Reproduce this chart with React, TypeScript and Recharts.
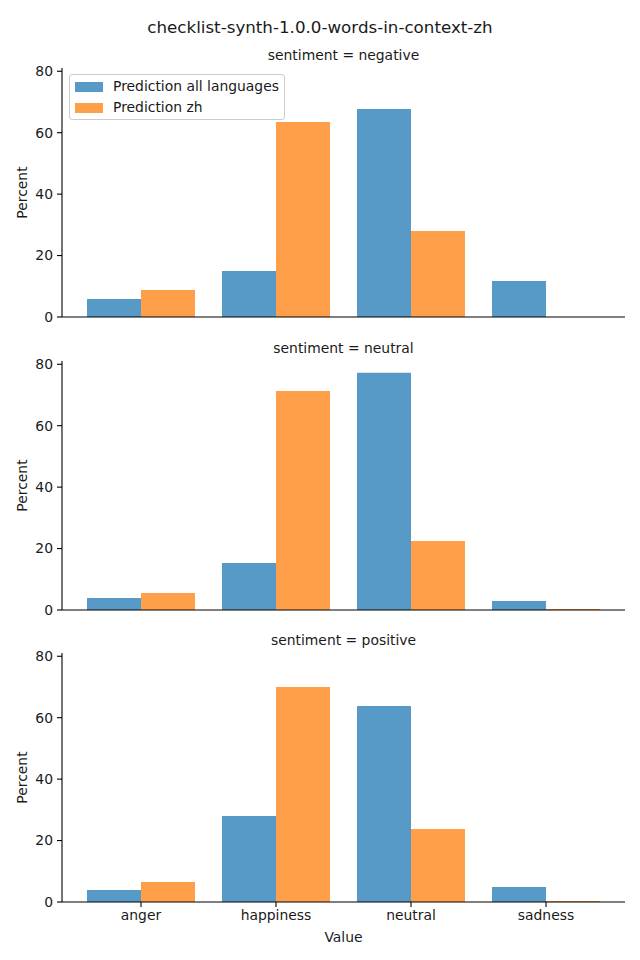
import React from 'react';
import { BarChart, Bar, XAxis, YAxis, Label } from 'recharts';

const categories = ['anger', 'happiness', 'neutral', 'sadness'];
const panelTitles = ['sentiment = negative', 'sentiment = neutral', 'sentiment = positive'];
const seriesNames = ['Prediction all languages', 'Prediction zh'];
const seriesColors = ['#5799c7', '#ff9f4a'];

const negativeAll = [5.9, 15.0, 67.7, 11.7];
const negativeZh = [8.8, 63.5, 28.0, 0];
const neutralAll = [3.9, 15.3, 77.2, 2.9];
const neutralZh = [5.5, 71.3, 22.5, 0.3];
const positiveAll = [3.9, 28.0, 63.8, 4.9];
const positiveZh = [6.5, 70.0, 23.8, 0.3];

const yTicks = [0, 20, 40, 60, 80];
const figureTitle = 'checklist-synth-1.0.0-words-in-context-zh';
const xLabel = 'Value';
const yLabel = 'Percent';

const FONT = '"DejaVu Sans", Verdana, sans-serif';
const TEXT = '#1a1a1a';
const FS = 13.9;

const panelSeries = [
  [negativeAll, negativeZh],
  [neutralAll, neutralZh],
  [positiveAll, positiveZh],
];

const PLOT_TOPS = [68, 360.5, 653];
const PLOT_H = 249;
const TOP_M = 8;
const XAXIS_H = 30;

function buildRows(all: number[], zh: number[]) {
  return categories.map((c, i) => ({ category: c, all: all[i], zh: zh[i] }));
}

function Panel({ index }: { index: number }) {
  const [all, zh] = panelSeries[index];
  const data = buildRows(all, zh);
  const isLast = index === panelSeries.length - 1;
  const height = TOP_M + PLOT_H + XAXIS_H;
  return (
    <div style={{ position: 'absolute', left: 0, top: PLOT_TOPS[index] - TOP_M, width: 640, height }}>
      <BarChart
        width={640}
        height={height}
        data={data}
        margin={{ top: TOP_M, right: 15, bottom: 0, left: 0 }}
        barCategoryGap="10%"
        barGap={0}
      >
        <XAxis
          dataKey="category"
          padding={{ left: 11.5, right: 11.5 }}
          height={XAXIS_H}
          interval={0}
          tickSize={5}
          tickMargin={3}
          axisLine={{ stroke: '#000', strokeWidth: 1.1 }}
          tickLine={{ stroke: '#000', strokeWidth: 1.1 }}
          tick={isLast ? { fill: TEXT, fontSize: FS, fontFamily: FONT } : false}
        />
        <YAxis
          width={62}
          domain={[0, 81.06]}
          ticks={yTicks}
          allowDataOverflow
          tickSize={5}
          tickMargin={4}
          axisLine={{ stroke: '#000', strokeWidth: 1.1 }}
          tickLine={{ stroke: '#000', strokeWidth: 1.1 }}
          tick={{ fill: TEXT, fontSize: FS, fontFamily: FONT }}
        >
          <Label
            content={(props: any) => {
              const vb = props.viewBox || { y: TOP_M, height: PLOT_H };
              const cy = vb.y + vb.height / 2;
              return (
                <text
                  x={22}
                  y={cy}
                  transform={`rotate(-90, 22, ${cy})`}
                  textAnchor="middle"
                  dominantBaseline="central"
                  fill={TEXT}
                  fontSize={FS}
                  fontFamily={FONT}
                >
                  {yLabel}
                </text>
              );
            }}
          />
        </YAxis>
        <Bar dataKey="all" name={seriesNames[0]} fill={seriesColors[0]} isAnimationActive={false} />
        <Bar dataKey="zh" name={seriesNames[1]} fill={seriesColors[1]} isAnimationActive={false} />
      </BarChart>
      <div
        style={{
          position: 'absolute',
          left: 62,
          width: 563,
          top: TOP_M - 21,
          textAlign: 'center',
          fontFamily: FONT,
          fontSize: FS,
          color: TEXT,
          lineHeight: '16px',
          whiteSpace: 'nowrap',
        }}
      >
        {panelTitles[index]}
      </div>
    </div>
  );
}

function LegendBox() {
  return (
    <div
      style={{
        position: 'absolute',
        left: 69,
        top: 74,
        width: 214,
        height: 44,
        border: '1px solid #cccccc',
        borderRadius: 3,
        background: 'rgba(255,255,255,0.8)',
        fontFamily: FONT,
        fontSize: FS,
        color: TEXT,
      }}
    >
      {seriesNames.map((n, i) => (
        <div key={n} style={{ position: 'absolute', left: 0, top: 2 + i * 21, height: 21, width: 214 }}>
          <div
            style={{
              position: 'absolute',
              left: 5,
              top: 5,
              width: 28,
              height: 10,
              background: seriesColors[i],
            }}
          />
          <div style={{ position: 'absolute', left: 43, top: 0, lineHeight: '18px', whiteSpace: 'nowrap' }}>{n}</div>
        </div>
      ))}
    </div>
  );
}

export default function App() {
  return (
    <div style={{ position: 'absolute', left: 0, top: 0, width: 640, height: 960, background: '#fff', overflow: 'hidden' }}>
      <div
        style={{
          position: 'absolute',
          left: 0,
          width: 640,
          top: 17,
          textAlign: 'center',
          fontFamily: FONT,
          fontSize: 16.7,
          color: TEXT,
          lineHeight: '20px',
          whiteSpace: 'nowrap',
        }}
      >
        {figureTitle}
      </div>
      {panelSeries.map((_, i) => (
        <Panel key={i} index={i} />
      ))}
      <LegendBox />
      <div
        style={{
          position: 'absolute',
          left: 62,
          width: 563,
          top: 928,
          textAlign: 'center',
          fontFamily: FONT,
          fontSize: FS,
          color: TEXT,
          lineHeight: '18px',
        }}
      >
        {xLabel}
      </div>
    </div>
  );
}
